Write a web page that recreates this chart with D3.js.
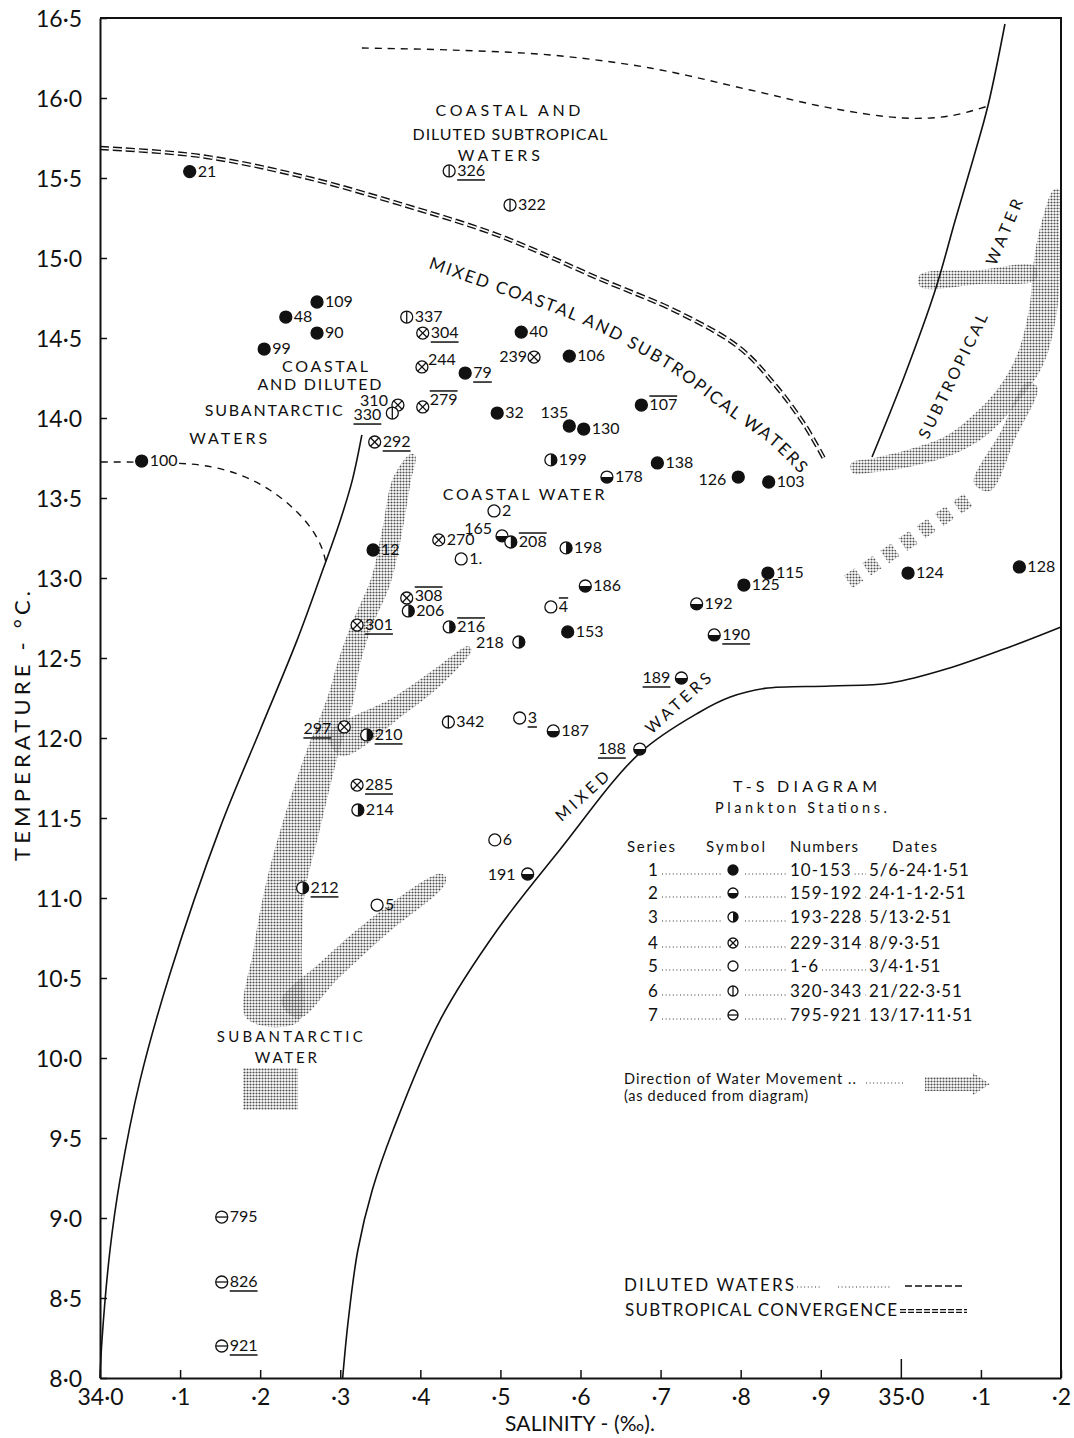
<!DOCTYPE html>
<html>
<head>
<meta charset="utf-8">
<script src="https://cdn.jsdelivr.net/npm/d3@7"></script>
<style>
  body { margin: 0; background: #fff; }
  svg { display: block; font-family: Lato, "DejaVu Sans", sans-serif; }
  .axis .domain { stroke: #111; stroke-width: 2; }
  .axis .tick line { stroke: #111; stroke-width: 1.5; }
  .axis .tick text { fill: #111; font-size: 23px; font-family: Lato, sans-serif; }
</style>
</head>
<body>
<svg id="chart" width="1074" height="1438"></svg>
<script>
// ---- T-S diagram of plankton stations: salinity (‰) against temperature (°C) ----

// Station observations per series: [station number, salinity, temperature]
const series1 = [
  ['21', 34.112, 15.54], ['109', 34.271, 14.725], ['48', 34.232, 14.631], ['90', 34.271, 14.531],
  ['99', 34.205, 14.431], ['100', 34.052, 13.731], ['40', 34.526, 14.537], ['106', 34.586, 14.387],
  ['79', 34.456, 14.281], ['32', 34.496, 14.031], ['135', 34.586, 13.95], ['130', 34.604, 13.931],
  ['107', 34.676, 14.081], ['138', 34.696, 13.719], ['126', 34.797, 13.631], ['103', 34.835, 13.60],
  ['12', 34.341, 13.175], ['153', 34.584, 12.663], ['115', 34.834, 13.031], ['125', 34.804, 12.956],
  ['124', 35.009, 13.031], ['128', 35.148, 13.069]
];
const series2 = [
  ['178', 34.633, 13.631], ['165', 34.502, 13.263], ['186', 34.606, 12.95], ['192', 34.745, 12.838],
  ['190', 34.767, 12.644], ['189', 34.726, 12.375], ['188', 34.674, 11.931], ['187', 34.566, 12.044],
  ['191', 34.534, 11.15]
];
const series3 = [
  ['199', 34.563, 13.738], ['208', 34.513, 13.225], ['198', 34.582, 13.188], ['206', 34.385, 12.794],
  ['216', 34.436, 12.694], ['218', 34.523, 12.60], ['210', 34.333, 12.019], ['214', 34.322, 11.55],
  ['212', 34.253, 11.063]
];
const series4 = [
  ['304', 34.403, 14.531], ['244', 34.402, 14.319], ['279', 34.403, 14.069], ['239', 34.542, 14.381],
  ['310', 34.372, 14.081], ['292', 34.343, 13.85], ['270', 34.423, 13.238], ['308', 34.383, 12.875],
  ['301', 34.321, 12.706], ['297', 34.305, 12.069], ['285', 34.321, 11.706]
];
const series5 = [
  ['2', 34.492, 13.419], ['1', 34.451, 13.119], ['4', 34.563, 12.819], ['3', 34.524, 12.125],
  ['6', 34.493, 11.363], ['5', 34.346, 10.956]
];
const series6 = [
  ['326', 34.436, 15.544], ['322', 34.512, 15.331], ['337', 34.383, 14.631], ['330', 34.365, 14.031],
  ['342', 34.435, 12.10]
];
const series7 = [
  ['795', 34.152, 9.006], ['826', 34.152, 8.60], ['921', 34.152, 8.20]
];

// Axis ticks
const tempTicks = d3.range(16, 34).map(i => i / 2);           // 8.0 … 16.5
const salTicks = d3.range(0, 13).map(i => 34 + i / 10);       // 34.0 … 35.2
const salTickText = ['34·0', '·1', '·2', '·3', '·4', '·5', '·6', '·7', '·8', '·9', '35·0', '·1', '·2'];

// Water-mass boundaries: [salinity, temperature]
const subantarcticLimit = [
  [34.000, 8.0], [34.0025, 8.24], [34.0125, 8.8], [34.025, 9.24], [34.05, 9.86], [34.087, 10.52],
  [34.150, 11.44], [34.200, 12.05], [34.246, 12.61], [34.275, 13.006], [34.300, 13.36],
  [34.315, 13.61], [34.327, 13.894]
];
const mixedLimit = [
  [34.303, 8.0], [34.310, 8.36], [34.322, 8.8], [34.340, 9.175], [34.366, 9.55], [34.425, 10.24],
  [34.496, 10.8], [34.574, 11.3], [34.674, 11.906], [34.749, 12.1625], [34.787, 12.256],
  [34.830, 12.31], [34.912, 12.325], [34.987, 12.344], [35.061, 12.4375], [35.136, 12.569], [35.2, 12.694]
];
const subtropicalLimit = [
  [35.130, 16.4625], [35.109, 15.956], [35.090, 15.6125], [35.068, 15.2375], [35.043, 14.8],
  [35.005, 14.269], [34.964, 13.756]
];
// Diluted-water limits (dashed)
const dilutedUpper = [
  [34.327, 16.3125], [34.437, 16.3], [34.562, 16.269], [34.687, 16.1875], [34.812, 16.05],
  [34.912, 15.9375], [35.003, 15.875], [35.061, 15.8875], [35.109, 15.95]
];
const dilutedLower = [
  [34.001, 13.725], [34.125, 13.706], [34.175, 13.644], [34.212, 13.55], [34.2435, 13.425],
  [34.265, 13.3], [34.277, 13.1875], [34.282, 13.1]
];
// Subtropical convergence (double dashed)
const convergence = [
  [34.0, 15.6875], [34.125, 15.6375], [34.250, 15.5125], [34.375, 15.3375], [34.4995, 15.1375],
  [34.624, 14.869], [34.724, 14.656], [34.799, 14.4375], [34.843, 14.206], [34.880, 13.956],
  [34.905, 13.7375]
];

// Directions of water movement (stippled bands): centre line [salinity, temperature]
const subantarcticTrunk = [
  [34.391, 13.769], [34.377, 13.6125], [34.365, 13.3], [34.351, 12.9875], [34.327, 12.706],
  [34.312, 12.4875], [34.300, 12.2375], [34.275, 11.8625], [34.250, 11.425], [34.231, 11.05],
  [34.222, 10.675], [34.215, 10.2375]
];
const subantarcticBranchUpper = [[34.2935, 11.956], [34.3746, 12.206], [34.4246, 12.394], [34.462, 12.5625]];
const subantarcticBranchLower = [[34.237, 10.3], [34.287, 10.55], [34.35, 10.831], [34.4246, 11.1125], [34.430, 11.14]];
const subantarcticSource = [[34.1786, 9.9375], [34.2473, 9.675]];
const subtropicalMain = [
  [35.195, 15.425], [35.1863, 15.206], [35.1826, 14.9875], [35.1776, 14.675], [35.1613, 14.3625],
  [35.1339, 14.144], [35.0989, 13.956], [35.0614, 13.831], [35.0115, 13.75], [34.9678, 13.706],
  [34.939, 13.6875]
];
const subtropicalTail = [[35.1676, 14.906], [35.0989, 14.881], [35.024, 14.856]];
const subtropicalSecond = [[35.1638, 14.2063], [35.1339, 13.894], [35.1014, 13.569]];
const subtropicalBroken = [[35.0839, 13.4875], [34.934, 12.975]];

// Legend table
const legendSeries = ['1', '2', '3', '4', '5', '6', '7'];
const legendNumbers = ['10-153', '159-192', '193-228', '229-314', '1-6', '320-343', '795-921'];
const legendDates = ['5/6-24·1·51', '24·1-1·2·51', '5/13·2·51', '8/9·3·51', '3/4·1·51', '21/22·3·51', '13/17·11·51'];

// ---- label styling per station ----
const underlined = new Set(['326', '304', '79', '292', '330', '301', '297', '210', '285', '212', '3', '189', '188', '190', '826', '921']);
const overlined = new Set(['279', '308', '107', '208', '216', '4']);
const labelText = { '1': '1.' };
const labelPlace = {
  '135': { anchor: 'end', dx: -1, dy: -8 },
  '165': { anchor: 'end', dx: -10, dy: -2 },
  '126': { anchor: 'end', dx: -12, dy: 8 },
  '218': { anchor: 'end', dx: -15, dy: 6 },
  '239': { anchor: 'end', dx: -7, dy: 5 },
  '297': { anchor: 'end', dx: -13, dy: 7 },
  '191': { anchor: 'end', dx: -12, dy: 6 },
  '188': { anchor: 'end', dx: -14, dy: 5 },
  '189': { anchor: 'end', dx: -11, dy: 5 },
  '310': { anchor: 'end', dx: -10, dy: 1 },
  '330': { anchor: 'end', dx: -11, dy: 7 },
  '244': { dx: 6, dy: -2 },
  '279': { dx: 7, dy: -2 },
  '308': { dx: 8, dy: 3 }
};

const svg = d3.select('#chart');
const X = d3.scaleLinear().domain([34.0, 35.2]).range([100, 1061]);
const Y = d3.scaleLinear().domain([8.0, 16.5]).range([1378, 18]);
const px = d => [X(d[0]), Y(d[1])];

svg.append('rect').attr('width', 1074).attr('height', 1438).attr('fill', '#fff');

const defs = svg.append('defs');
const pat = defs.append('pattern').attr('id', 'stipple').attr('patternUnits', 'userSpaceOnUse')
  .attr('width', 3).attr('height', 3);
pat.append('circle').attr('cx', 1.5).attr('cy', 1.5).attr('r', 1.05).attr('fill', '#222');
defs.append('filter').attr('id', 'soft').append('feGaussianBlur').attr('stdDeviation', 0.45);

// ---- stippled bands ----
const bandLayer = svg.append('g').attr('opacity', 0.8).attr('filter', 'url(#soft)');
function band(points, widths) {
  const p = points.map(px);
  const left = [], right = [];
  p.forEach((pt, i) => {
    const a = p[Math.max(i - 1, 0)], b = p[Math.min(i + 1, p.length - 1)];
    const dx = b[0] - a[0], dy = b[1] - a[1];
    const len = Math.hypot(dx, dy) || 1;
    const nx = -dy / len, ny = dx / len, h = widths[i] / 2;
    left.push([pt[0] + nx * h, pt[1] + ny * h]);
    right.push([pt[0] - nx * h, pt[1] - ny * h]);
  });
  bandLayer.append('path')
    .attr('d', d3.line().curve(d3.curveCatmullRomClosed)(left.concat(right.reverse())))
    .attr('fill', 'url(#stipple)');
}
band(subantarcticTrunk, [5, 18, 20, 20, 20, 22, 26, 32, 38, 40, 48, 52]);
band(subantarcticBranchUpper, [26, 20, 16, 5]);
band(subantarcticBranchLower, [24, 24, 22, 14, 4]);
bandLayer.append('rect')
  .attr('x', X(subantarcticSource[0][0])).attr('y', Y(subantarcticSource[0][1]))
  .attr('width', X(subantarcticSource[1][0]) - X(subantarcticSource[0][0]))
  .attr('height', Y(subantarcticSource[1][1]) - Y(subantarcticSource[0][1]))
  .attr('fill', 'url(#stipple)');
band(subtropicalMain, [6, 18, 26, 28, 28, 24, 24, 20, 17, 14, 10]);
band(subtropicalTail, [14, 14, 12]);
band(subtropicalSecond, [12, 16, 18]);
bandLayer.append('path')
  .attr('d', d3.line()(subtropicalBroken.map(px)))
  .attr('stroke', 'url(#stipple)').attr('stroke-width', 15).attr('stroke-dasharray', '13 9').attr('fill', 'none');

// ---- boundaries ----
const curve = d3.line().curve(d3.curveCatmullRom.alpha(0.5));
const lines = svg.append('g').attr('fill', 'none');
[subantarcticLimit, mixedLimit, subtropicalLimit].forEach(l => {
  lines.append('path').attr('d', curve(l.map(px))).attr('stroke', '#111').attr('stroke-width', 1.6);
});
[dilutedUpper, dilutedLower].forEach(l => {
  lines.append('path').attr('d', curve(l.map(px))).attr('stroke', '#111')
    .attr('stroke-width', 1.4).attr('stroke-dasharray', '7 6');
});
lines.append('path').attr('d', curve(convergence.map(px))).attr('stroke', '#111')
  .attr('stroke-width', 4.4).attr('stroke-dasharray', '9 4');
lines.append('path').attr('d', curve(convergence.map(px))).attr('stroke', '#fff')
  .attr('stroke-width', 1.6).attr('stroke-dasharray', '9 4');

// ---- axes & frame ----
svg.append('g').attr('class', 'axis').attr('transform', 'translate(100,0)')
  .call(d3.axisLeft(Y).tickValues(tempTicks).tickSize(-7).tickSizeOuter(0).tickPadding(18)
    .tickFormat(d => d.toFixed(1).replace('.', '·')))
  .call(g => g.selectAll('.tick text').attr('dy', '0.36em'));
const xAxis = svg.append('g').attr('class', 'axis').attr('transform', 'translate(0,1378)')
  .call(d3.axisBottom(X).tickValues(salTicks).tickSize(-8).tickSizeOuter(0).tickPadding(11)
    .tickFormat((d, i) => salTickText[i]));
xAxis.selectAll('.tick line').filter(d => Math.abs(d - 35) < 1e-9).attr('y2', -19);
svg.append('path').attr('d', `M${X(34)},${Y(16.5)}H${X(35.2)}V${Y(8)}`)
  .attr('fill', 'none').attr('stroke', '#111').attr('stroke-width', 2);

svg.append('text').attr('transform', 'translate(30,726) rotate(-90)').attr('text-anchor', 'middle')
  .attr('font-size', 22).attr('textLength', 270).attr('lengthAdjust', 'spacing')
  .attr('fill', '#111').text('TEMPERATURE - °C.');
svg.append('text').attr('x', 580).attr('y', 1431).attr('text-anchor', 'middle')
  .attr('font-size', 21).attr('textLength', 150).attr('lengthAdjust', 'spacing')
  .attr('fill', '#111').text('SALINITY - (‰).');

// ---- station symbols ----
function symbol(g, s, r) {
  const line = (x1, y1, x2, y2) => g.append('line').attr('x1', x1).attr('y1', y1).attr('x2', x2).attr('y2', y2)
    .attr('stroke', '#111').attr('stroke-width', 1.3);
  g.append('circle').attr('r', r).attr('fill', s === 1 ? '#111' : '#fff').attr('stroke', '#111').attr('stroke-width', 1.3);
  if (s === 2) g.append('path').attr('d', `M${-r},0A${r},${r} 0 0 0 ${r},0Z`).attr('fill', '#111');
  if (s === 3) g.append('path').attr('d', `M0,${-r}A${r},${r} 0 0 1 0,${r}Z`).attr('fill', '#111');
  if (s === 4) { const k = r * 0.7; line(-k, -k, k, k); line(-k, k, k, -k); }
  if (s === 6) line(0, -r, 0, r);
  if (s === 7) line(-r, 0, r, 0);
}

const stations = svg.append('g');
[series1, series2, series3, series4, series5, series6, series7].forEach((ser, si) => {
  ser.forEach(([id, S, T]) => {
    const x = X(S), y = Y(T);
    const g = stations.append('g').attr('transform', `translate(${x},${y})`);
    symbol(g, si + 1, 6);
    const p = labelPlace[id] || {};
    const anchor = p.anchor || 'start';
    const dx = p.dx !== undefined ? p.dx : 8, dy = p.dy !== undefined ? p.dy : 5;
    const t = g.append('text').attr('x', dx).attr('y', dy).attr('text-anchor', anchor)
      .attr('font-size', 16).attr('fill', '#111').text(labelText[id] || id);
    if (id === '100') t.attr('stroke', '#fff').attr('stroke-width', 4).attr('paint-order', 'stroke');
    if (underlined.has(id) || overlined.has(id)) {
      const bb = t.node().getBBox();
      const ly = underlined.has(id) ? dy + 4 : dy - 14;
      g.append('line').attr('x1', bb.x).attr('x2', bb.x + bb.width).attr('y1', ly).attr('y2', ly)
        .attr('stroke', '#111').attr('stroke-width', 1.5);
    }
  });
});

// ---- water mass names ----
const names = svg.append('g').attr('fill', '#111').attr('font-size', 16).attr('text-anchor', 'middle');
function name(txt, S, T, len, rot) {
  return names.append('text').attr('dy', '0.36em').text(txt)
    .attr('textLength', len).attr('lengthAdjust', 'spacing')
    .attr('transform', `translate(${X(S)},${Y(T)})` + (rot ? ` rotate(${rot})` : ''));
}
name('COASTAL AND', 34.5095, 15.925, 145);
name('DILUTED SUBTROPICAL', 34.512, 15.775, 195);
name('WATERS', 34.498, 15.645, 82);
name('COASTAL', 34.281, 14.325, 86);
name('AND DILUTED', 34.274, 14.212, 124);
name('SUBANTARCTIC', 34.217, 14.05, 138);
name('WATERS', 34.16, 13.875, 78);
name('COASTAL WATER', 34.529, 13.525, 162);
name('SUBANTARCTIC', 34.237, 10.131, 146).attr('font-size', 15);
name('WATER', 34.232, 10.0, 62).attr('font-size', 15);
name('SUBTROPICAL', 35.065, 14.2625, 137, -64);
name('WATER', 35.129, 15.1625, 70, -67);
name('MIXED', 34.602, 11.6375, 66, -42);
name('WATERS', 34.7218, 12.2188, 82, -42);

// Curved name between the convergence and the coastal waters, set letter by letter
const mixedPath = [
  [34.4096, 14.9375], [34.4908, 14.794], [34.5844, 14.625], [34.6394, 14.5], [34.6643, 14.431],
  [34.7118, 14.294], [34.7855, 14.019], [34.8379, 13.831], [34.874, 13.65]
];
const arc = defs.append('path').attr('d', curve(mixedPath.map(px))).node();
(function setAlong(str) {
  const fs = 17;
  const probe = svg.append('text').attr('font-size', fs).text(str);
  const widths = Array.from(str).map((c, i) => probe.node().getSubStringLength(i, 1));
  probe.remove();
  const total = arc.getTotalLength();
  const sum = d3.sum(widths);
  const gap = (total - sum) / (widths.length - 1);
  let off = 0;
  const g = svg.append('g').attr('font-size', fs).attr('fill', '#111').attr('text-anchor', 'middle');
  Array.from(str).forEach((c, i) => {
    const mid = off + widths[i] / 2;
    const p = arc.getPointAtLength(mid);
    const a = arc.getPointAtLength(Math.max(mid - 1, 0)), b = arc.getPointAtLength(Math.min(mid + 1, total));
    const ang = Math.atan2(b.y - a.y, b.x - a.x) * 180 / Math.PI;
    if (c !== ' ') g.append('text').attr('transform', `translate(${p.x},${p.y}) rotate(${ang})`).text(c);
    off += widths[i] + gap;
  });
})('MIXED COASTAL AND SUBTROPICAL WATERS');

// ---- legend ----
const leg = svg.append('g').attr('fill', '#111');
leg.append('text').attr('x', 805).attr('y', 792).attr('text-anchor', 'middle').attr('font-size', 16)
  .attr('textLength', 144).attr('lengthAdjust', 'spacing').text('T-S DIAGRAM');
leg.append('text').attr('x', 801).attr('y', 813).attr('text-anchor', 'middle').attr('font-size', 14.5)
  .attr('textLength', 172).attr('lengthAdjust', 'spacing').text('Plankton Stations.');
const hdr = leg.append('g').attr('font-size', 15);
[['Series', 627, 48], ['Symbol', 706, 59], ['Numbers', 790, 68], ['Dates', 892, 45]].forEach(([t, x, w]) =>
  hdr.append('text').attr('x', x).attr('y', 852).attr('textLength', w).attr('lengthAdjust', 'spacing').text(t));

const dotted = (x1, x2, y) => leg.append('line').attr('x1', x1).attr('x2', x2).attr('y1', y).attr('y2', y)
  .attr('stroke', '#333').attr('stroke-width', 1.1).attr('stroke-dasharray', '1 2.6');
const rowY = [876, 899, 923, 949, 972, 997, 1021];
legendSeries.forEach((s, i) => {
  const y = rowY[i];
  leg.append('text').attr('x', 648).attr('y', y).attr('font-size', 17).text(s);
  dotted(662, 722, y - 2);
  symbol(leg.append('g').attr('transform', `translate(733,${y - 6})`), i + 1, 5);
  dotted(745, 787, y - 2);
  const nt = leg.append('text').attr('x', 790).attr('y', y).attr('font-size', 17).attr('letter-spacing', 1)
    .text(legendNumbers[i]);
  const bb = nt.node().getBBox();
  dotted(bb.x + bb.width + 3, 866, y - 2);
  leg.append('text').attr('x', 869).attr('y', y).attr('font-size', 17).attr('letter-spacing', 0.8)
    .text(legendDates[i]);
});

leg.append('text').attr('x', 624).attr('y', 1084).attr('font-size', 14.5)
  .attr('textLength', 232).attr('lengthAdjust', 'spacing').text('Direction of Water Movement ..');
dotted(866, 905, 1083);
leg.append('text').attr('x', 624).attr('y', 1101).attr('font-size', 14.5)
  .attr('textLength', 184).attr('lengthAdjust', 'spacing').text('(as deduced from diagram)');
svg.append('path').attr('d', 'M925,1077H973V1073L990,1084L973,1095V1091H925Z')
  .attr('fill', 'url(#stipple)').attr('opacity', 0.8);

leg.append('text').attr('x', 624).attr('y', 1291).attr('font-size', 17)
  .attr('textLength', 170).attr('lengthAdjust', 'spacing').text('DILUTED WATERS');
dotted(797, 822, 1287); dotted(838, 890, 1287);
leg.append('line').attr('x1', 905).attr('x2', 965).attr('y1', 1286).attr('y2', 1286)
  .attr('stroke', '#111').attr('stroke-width', 1.4).attr('stroke-dasharray', '7 3');
leg.append('text').attr('x', 625).attr('y', 1316).attr('font-size', 17)
  .attr('textLength', 272).attr('lengthAdjust', 'spacing').text('SUBTROPICAL CONVERGENCE');
leg.append('line').attr('x1', 900).attr('x2', 967).attr('y1', 1311).attr('y2', 1311)
  .attr('stroke', '#111').attr('stroke-width', 4).attr('stroke-dasharray', '6 2');
leg.append('line').attr('x1', 900).attr('x2', 967).attr('y1', 1311).attr('y2', 1311)
  .attr('stroke', '#fff').attr('stroke-width', 1.4);
</script>
</body>
</html>
